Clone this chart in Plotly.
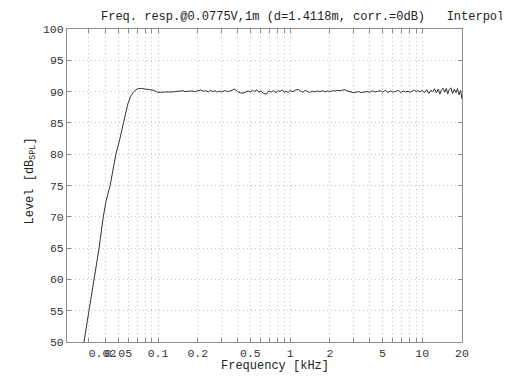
import plotly.graph_objects as go

freq_khz = [
    0.0275, 0.030, 0.0327, 0.0358, 0.0385, 0.0400, 0.0405, 0.0434, 0.048, 0.0515,
    0.0546, 0.059, 0.062, 0.065, 0.068, 0.071, 0.075, 0.080, 0.087, 0.093,
    0.097, 0.100, 0.105, 0.11, 0.12, 0.13, 0.14, 0.15, 0.155, 0.16,
    0.17, 0.18, 0.19, 0.20, 0.21, 0.22, 0.23, 0.24, 0.25, 0.26,
    0.27, 0.28, 0.29, 0.30, 0.32, 0.34, 0.36, 0.38, 0.40, 0.42,
    0.44, 0.46, 0.48, 0.50, 0.52, 0.54, 0.56, 0.58, 0.60, 0.63,
    0.66, 0.69, 0.72, 0.75, 0.78, 0.81, 0.84, 0.87, 0.90, 0.93,
    0.96, 1.00, 1.05, 1.10, 1.15, 1.20, 1.25, 1.30, 1.35, 1.40,
    1.47, 1.54, 1.61, 1.68, 1.76, 1.84, 1.92, 2.0, 2.1, 2.2,
    2.3, 2.4, 2.5, 2.6, 2.7, 2.85, 3.0, 3.15, 3.3, 3.45,
    3.6, 3.8, 4.0, 4.2, 4.4, 4.6, 4.8, 5.0, 5.25, 5.5,
    5.75, 6.0, 6.3, 6.6, 6.9, 7.2, 7.5, 7.8, 8.1, 8.4,
    8.7, 9.0, 9.3, 9.6, 10.0, 10.4, 10.8, 11.2, 11.6, 12.0,
    12.4, 12.8, 13.2, 13.6, 14.0, 14.4, 14.8, 15.2, 15.6, 16.0,
    16.5, 17.0, 17.5, 18.0, 18.5, 19.0, 19.5, 20.0,
]
level_db = [
    50.0, 55.0, 60.0, 65.0, 70.0, 72.2, 72.6, 75.0, 80.0, 82.5,
    85.0, 88.0, 89.2, 89.9, 90.3, 90.5, 90.5, 90.4, 90.35, 90.2,
    90.0, 89.9, 89.9, 89.95, 89.95, 89.95, 90.0, 90.05, 90.15, 90.0,
    90.05, 90.1, 90.0, 90.1, 90.25, 90.05, 90.15, 89.95, 90.2, 90.0,
    90.15, 89.9, 90.1, 89.95, 90.15, 90.0, 90.2, 90.4, 90.0, 89.8,
    89.75, 90.0, 90.1, 89.95, 90.2, 90.0, 90.3, 89.9, 90.1, 89.7,
    89.6, 90.1, 89.9, 90.2, 89.8, 90.15, 90.0, 90.3, 89.9, 90.1,
    89.85, 90.15, 90.0, 90.25, 90.35, 90.1, 89.9, 90.2, 90.0, 89.85,
    90.05, 89.95, 90.1, 90.0, 90.15, 89.95, 90.1, 90.0, 90.15, 90.1,
    90.2, 90.15, 90.25, 90.3, 90.1, 89.95, 89.85, 89.9, 90.0, 89.85,
    89.95, 90.0, 89.9, 90.1, 89.95, 90.05, 90.15, 89.9, 90.2, 89.85,
    90.1, 89.95, 90.0, 90.2, 89.85, 90.1, 89.95, 90.05, 89.9, 90.1,
    90.25, 90.0, 90.15, 89.95, 90.2, 89.8, 90.3, 89.7, 90.2, 90.0,
    90.45, 89.8, 90.4, 89.6, 90.3, 90.55, 89.9, 90.5, 89.6, 90.3,
    90.6, 89.7, 90.4, 89.8, 90.5, 89.5, 90.2, 88.8,
]

x_label_vals = [0.038, 0.05, 0.1, 0.2, 0.5, 1, 2, 5, 10, 20]
x_label_text = ["0.02", "0.05", "0.1", "0.2", "0.5", "1", "2", "5", "10", "20"]
x_grid_vals = [0.03, 0.04, 0.05, 0.06, 0.07, 0.08, 0.09,
               0.1, 0.2, 0.3, 0.4, 0.5, 0.6, 0.7, 0.8, 0.9,
               1, 2, 3, 4, 5, 6, 7, 8, 9, 10]
y_ticks = [50, 55, 60, 65, 70, 75, 80, 85, 90, 95, 100]

title_text = "Freq. resp.@0.0775V,1m (d=1.4118m, corr.=0dB)" + "\u00a0" * 3 + "Interpolated"
x_title = "Frequency [kHz]"
y_title = "Level [dB<sub>SPL</sub>]"

FONT = "Liberation Mono, Courier New, monospace"
FRAME = "#8c8c8c"
GRID = "#c4c4c4"

fig = go.Figure()
fig.add_trace(go.Scatter(x=freq_khz, y=level_db, mode="lines",
                         line=dict(color="#333333", width=1), showlegend=False))

fig.update_layout(
    width=510, height=384,
    margin=dict(l=59, r=56, t=21, b=50, autoexpand=False),
    paper_bgcolor="white", plot_bgcolor="white",
    font=dict(family=FONT, size=11.5, color="#333333"),
    showlegend=False,
)
fig.update_xaxes(
    type="log", range=[-1.689, 1.30103], automargin=False, tickangle=0,
    tickmode="array", tickvals=x_label_vals, ticktext=x_label_text,
    ticks="", showgrid=False, zeroline=False,
    showline=True, linecolor=FRAME, linewidth=1, mirror="ticks",
    tickfont=dict(family=FONT, size=11.5, color="#333333"),
    minor=dict(tickmode="array", tickvals=x_grid_vals, ticks="inside", ticklen=4,
               tickcolor=FRAME, showgrid=True, gridcolor=GRID, griddash="1px,3px", gridwidth=1),
)
fig.update_yaxes(
    range=[50, 100], tickmode="array", tickvals=y_ticks, automargin=False,
    ticks="inside", ticklen=4, tickcolor=FRAME,
    showgrid=True, gridcolor=GRID, griddash="1px,3px", gridwidth=1, zeroline=False,
    showline=True, linecolor=FRAME, linewidth=1, mirror="ticks",
    tickfont=dict(family=FONT, size=11.5, color="#333333"),
)

fig.add_annotation(text=title_text, xref="paper", yref="paper", x=0.081, y=1.0,
                   yshift=3, xanchor="left", yanchor="bottom", showarrow=False,
                   font=dict(family=FONT, size=12, color="#222222"))
fig.add_annotation(text=x_title, xref="paper", yref="paper", x=0.5, y=0,
                   xshift=10, yshift=-15, xanchor="center", yanchor="top", showarrow=False,
                   font=dict(family=FONT, size=12, color="#222222"))
fig.add_annotation(text=y_title, xref="paper", yref="paper", x=0, y=0.5,
                   xshift=-37, yshift=4, xanchor="center", yanchor="middle", textangle=-90,
                   showarrow=False, font=dict(family=FONT, size=12, color="#222222"))

fig.write_html("out.html")
